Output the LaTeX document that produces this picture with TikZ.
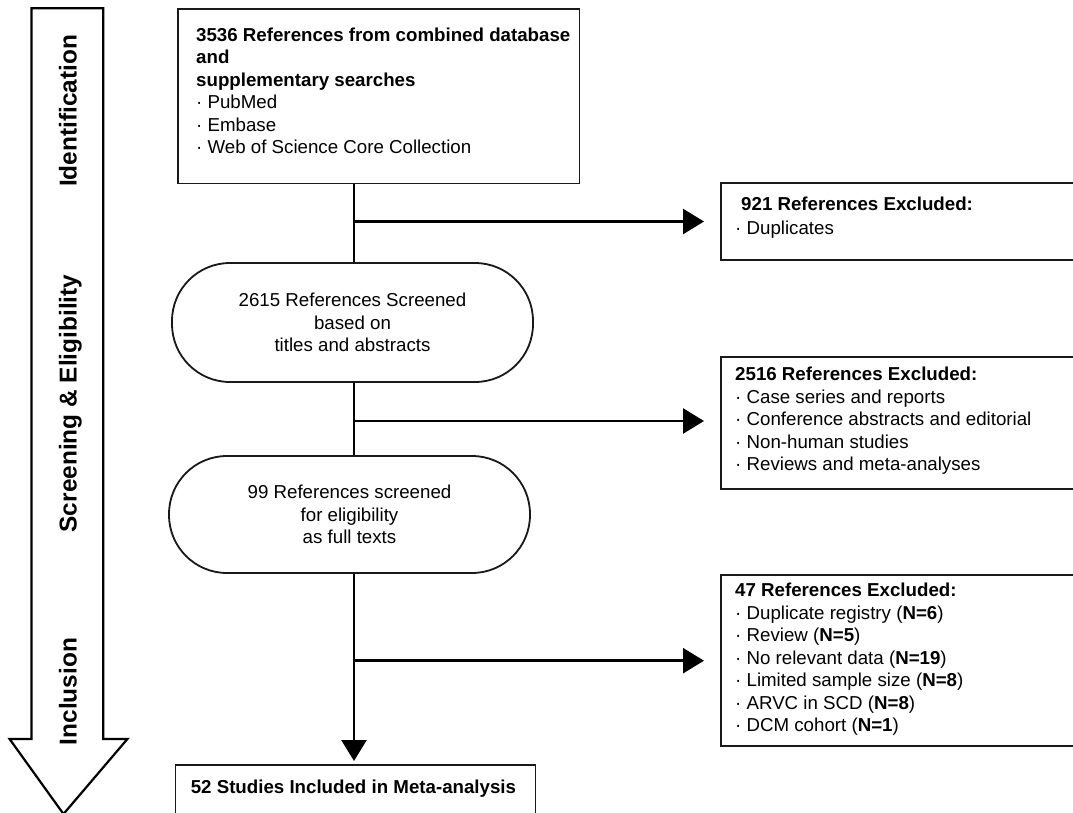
\documentclass[tikz,border=0pt]{standalone}
\usepackage{fontspec}
\setmainfont{Liberation Sans}
\usetikzlibrary{arrows.meta,calc}
\begin{document}
\begin{tikzpicture}[x=1pt,y=-1pt,
  box/.style={draw=black!90, line width=1.8pt, fill=white, inner sep=0pt, anchor=north west},
  stad/.style={draw=black!90, line width=1.8pt, fill=white, rounded corners=58pt, inner sep=0pt, align=center, font=\fontsize{18.7}{22.5}\selectfont},
  txt/.style={inner sep=0pt, anchor=north west, align=left, font=\fontsize{18.7}{22.5}\selectfont},
  lab/.style={rotate=90, anchor=base, font=\fontsize{24.4}{28}\selectfont\bfseries},
  conn/.style={line width=2.5pt, black},
  arr/.style={conn, -{Triangle[length=21pt,width=25pt]}},
  bigarrow/.style={draw=black, line width=2.2pt, fill=white, line join=miter}
]
\useasboundingbox (0,0) rectangle (1073,813);

% stage arrow on the left
\draw[bigarrow] (31.4,8.3) -- (103.3,8.3) -- (103.3,739) -- (127.4,739) -- (63.5,814) -- (9.6,739) -- (31.4,739) -- cycle;
\node[lab] (lid) at (76.5,111) {Identification};
\node[lab] (lse) at (76.5,403.5) {Screening \& Eligibility};
\node[lab] (lin) at (76.5,691.5) {Inclusion};

% boxes
\node[box, minimum width=401.8pt, minimum height=174.4pt] (top) at (176.8,8.3) {};
\node[txt] (toptxt) at (196,27.4) {\textbf{3536 References from combined database}\\\textbf{and}\\\textbf{supplementary searches}\\· PubMed\\· Embase\\· Web of Science Core Collection};

\node[stad, minimum width=361pt, minimum height=119pt] (s1) at (352.5,322.5) {2615 References Screened\\based on\\titles and abstracts};
\node[stad, minimum width=361pt, minimum height=117pt] (s2) at (349.5,514.5) {99 References screened\\for eligibility\\as full texts};

\node[box, minimum width=360.1pt, minimum height=70pt] (inc) at (174.5,764) {};
\node[txt] (inctxt) at (190.6,779.4) {\textbf{52 Studies Included in Meta-analysis}};

\node[box, minimum width=380pt, minimum height=77pt] (ex1) at (720,182.3) {};
\node[txt, font=\fontsize{18.7}{24}\selectfont] (ex1txt) at (735,196.4) {\hspace*{6pt}\textbf{921 References Excluded:}\\· Duplicates};

\node[box, minimum width=380pt, minimum height=132.6pt] (ex2) at (720,355.7) {};
\node[txt] (ex2txt) at (735,367.1) {\textbf{2516 References Excluded:}\\· Case series and reports\\· Conference abstracts and editorial\\· Non-human studies\\· Reviews and meta-analyses};

\node[box, minimum width=380pt, minimum height=171pt] (ex3) at (720,574) {};
\node[txt] (ex3txt) at (735,583.1) {\textbf{47 References Excluded:}\\· Duplicate registry (\textbf{N=6})\\· Review (\textbf{N=5})\\· No relevant data (\textbf{N=19})\\· Limited sample size (\textbf{N=8})\\· ARVC in SCD (\textbf{N=8})\\· DCM cohort (\textbf{N=1})};

% connectors
\coordinate (spine) at (354,0);
\coordinate (b1) at (354,221.5);
\coordinate (b2) at (354,421);
\coordinate (b3) at (354,660.7);
\draw[conn] (spine |- top.south) -- (spine |- s1.north);
\draw[conn] (spine |- s1.south) -- (spine |- s2.north);
\draw[arr, shorten >=3pt] (spine |- s2.south) -- (spine |- inc.north);
\draw[arr, shorten >=16pt] (b1) -- (b1 -| ex1.west);
\draw[arr, shorten >=16pt] (b2) -- (b2 -| ex2.west);
\draw[arr, shorten >=16pt] (b3) -- (b3 -| ex3.west);
\end{tikzpicture}
\end{document}
